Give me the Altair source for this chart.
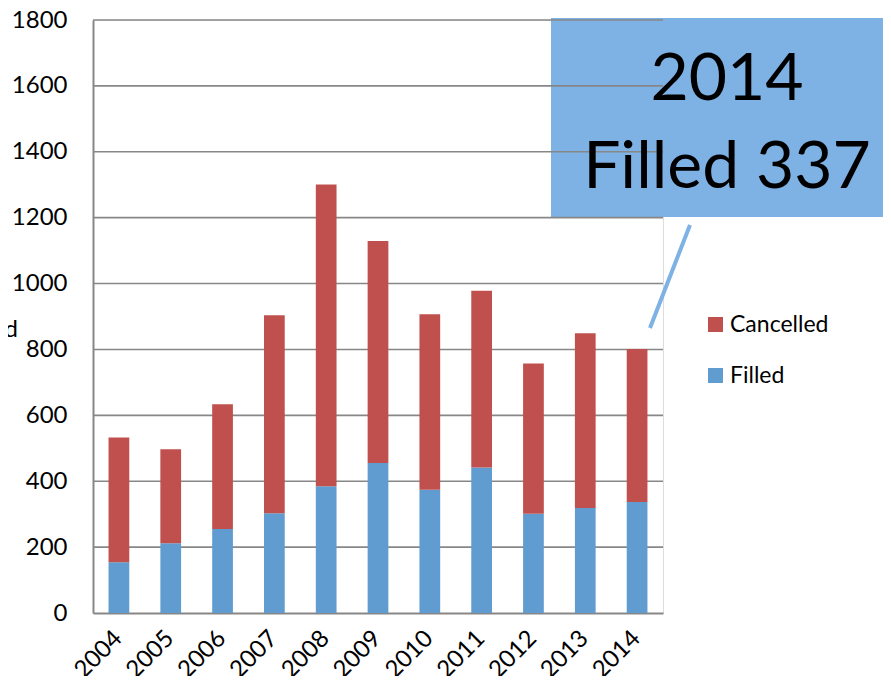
import altair as alt
import pandas as pd

years = ["2004", "2005", "2006", "2007", "2008", "2009", "2010", "2011", "2012", "2013", "2014"]
filled = [154, 212, 255, 303, 385, 455, 374, 442, 301, 319, 337]
cancelled = [379, 285, 379, 601, 916, 674, 533, 536, 456, 530, 464]
series = ["Cancelled", "Filled"]
colors = ["#C0504D", "#619CD1"]
y_ticks = [0, 200, 400, 600, 800, 1000, 1200, 1400, 1600, 1800]
callout_year = "2014"
callout_text = "Filled 337"

rows = []
for y, f, c in zip(years, filled, cancelled):
    rows.append({"year": y, "series": "Filled", "value": f, "ord": 0})
    rows.append({"year": y, "series": "Cancelled", "value": c, "ord": 1})
df = pd.DataFrame(rows)
grid_df = pd.DataFrame({"v": y_ticks[1:]})

FONT = "Lato"
W, H = 570, 593
GRID = "#878787"
BOX = "#7EB1E4"

yscale = alt.Scale(domain=[0, 1800], nice=False)

box = alt.Chart(pd.DataFrame({"a": [0]})).mark_rect(color=BOX).encode(
    x=alt.value(458), x2=alt.value(800), y=alt.value(-2), y2=alt.value(197)
)

grid = alt.Chart(grid_df).mark_rule(color=GRID, strokeWidth=1.6).encode(
    y=alt.Y("v:Q", scale=yscale), x=alt.value(0), x2=alt.value(W)
)

bars = alt.Chart(df).mark_bar().encode(
    x=alt.X(
        "year:N",
        sort=years,
        scale=alt.Scale(paddingInner=0.6, paddingOuter=0.3),
        axis=alt.Axis(
            title=None, labelAngle=-45, labelFontSize=24, labelFont=FONT,
            labelColor="black", ticks=False, domainColor=GRID, domainWidth=2,
            labelPadding=13, labelOffset=-9, labelAlign="right", labelBaseline="top",
        ),
    ),
    y=alt.Y(
        "value:Q",
        stack="zero",
        scale=yscale,
        axis=alt.Axis(
            title=None, values=y_ticks, format="d", grid=False, ticks=False,
            labelFontSize=24, labelFont=FONT, labelColor="black", labelPadding=26,
            domainColor=GRID, domainWidth=2,
        ),
    ),
    color=alt.Color(
        "series:N",
        scale=alt.Scale(domain=series, range=colors),
        legend=alt.Legend(
            title=None, orient="none", legendX=611, legendY=293, symbolType="square",
            symbolSize=225, symbolStrokeWidth=0, labelFontSize=23, labelFont=FONT,
            labelColor="black", rowPadding=27, labelOffset=3,
        ),
    ),
    order=alt.Order("ord:Q"),
)

leader = alt.Chart(pd.DataFrame({"a": [0]})).mark_rule(color=BOX, strokeWidth=4).encode(
    x=alt.value(597), x2=alt.value(557), y=alt.value(205), y2=alt.value(308)
)

t1 = alt.Chart(pd.DataFrame({"t": [callout_year]})).mark_text(
    font=FONT, fontSize=66, color="black", align="center", baseline="alphabetic"
).encode(text="t:N", x=alt.value(634), y=alt.value(80))

t2 = alt.Chart(pd.DataFrame({"t": [callout_text]})).mark_text(
    font=FONT, fontSize=66, color="black", align="center", baseline="alphabetic"
).encode(text="t:N", x=alt.value(634), y=alt.value(168))

ytitle = alt.Chart(pd.DataFrame({"t": ["Requested"]})).mark_text(
    font=FONT, fontSize=24, color="black", align="right", baseline="middle"
).encode(text="t:N", x=alt.value(-75), y=alt.value(310))

chart = alt.layer(box, grid, bars, leader, t1, t2, ytitle).properties(
    width=W, height=H,
    autosize=alt.AutoSizeParams(type="none"),
    padding={"left": 85, "top": 12, "right": 220, "bottom": 63},
).configure_view(stroke=None).configure(background="white")

chart.save("out.html", embed_options={"renderer": "svg", "actions": False})
